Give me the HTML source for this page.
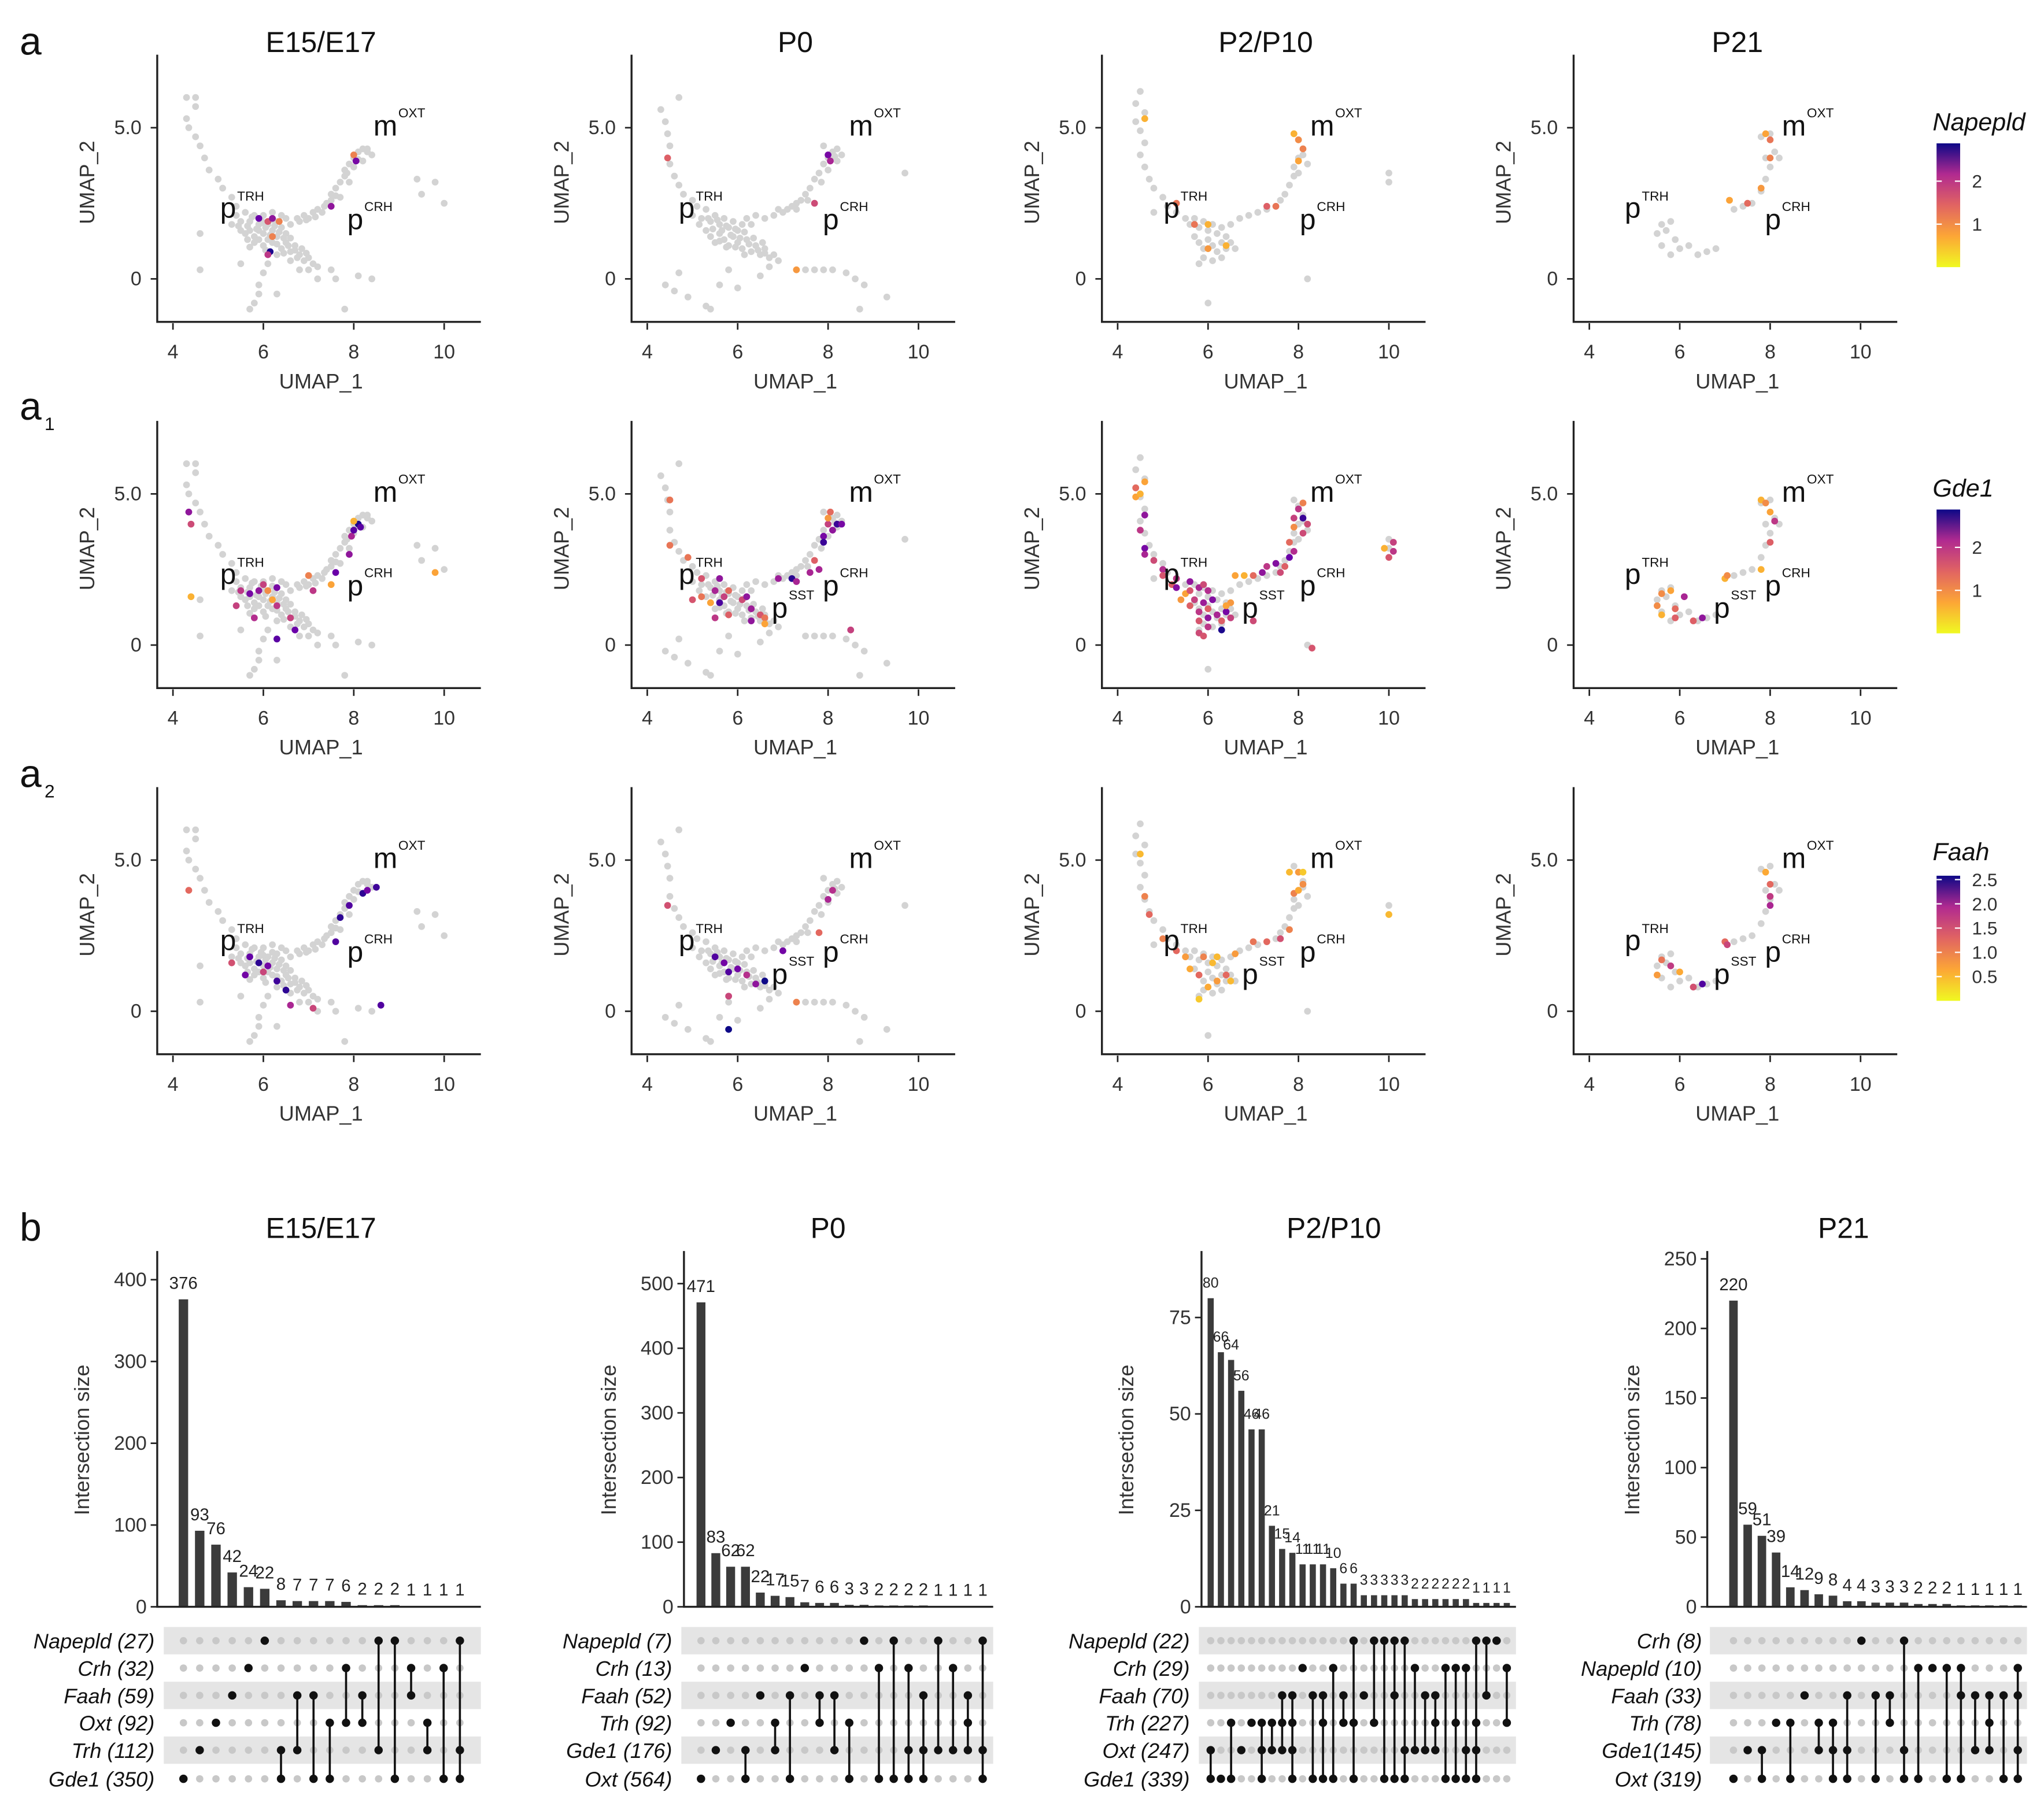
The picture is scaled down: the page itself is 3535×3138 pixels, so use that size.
<!DOCTYPE html>
<html><head><meta charset="utf-8">
<style>
html,body{margin:0;padding:0;background:#fff;}
svg{display:block;font-family:"Liberation Sans",sans-serif;}
</style></head>
<body>
<svg id="fig" width="3535" height="3138" viewBox="0 0 1560 1392" preserveAspectRatio="none" xmlns="http://www.w3.org/2000/svg">
<defs>
<linearGradient id="plasma" x1="0" y1="1" x2="0" y2="0">
<stop offset="0" stop-color="#f0f921"/><stop offset="0.25" stop-color="#fca636"/>
<stop offset="0.5" stop-color="#e16462"/><stop offset="0.75" stop-color="#b12a90"/>
<stop offset="1" stop-color="#0d0887"/>
</linearGradient>
</defs>
</svg>
<script>
// ---------- UMAP data (UMAP_1, UMAP_2) ----------
const stageTitles = ["E15/E17","P0","P2/P10","P21"];
const geneNames = ["Napepld","Gde1","Faah"];
const geneMax = [2.88, 2.88, 2.58];
const grayE15 = "4.3,6.0 4.5,6.0 4.5,5.7 4.3,5.3 4.35,5.0 4.5,4.7 4.6,4.4 4.7,4.0 4.8,3.6 5.0,3.3 5.1,3.0 5.3,2.7 5.4,2.4 4.6,1.5 4.6,0.3 5.4,2.1 5.5,1.9 5.6,2.2 5.7,1.9 5.8,2.1 5.9,1.8 6.0,2.1 6.1,1.8 6.2,2.2 6.3,1.9 6.4,2.1 6.5,2.0 5.5,1.6 5.6,1.5 5.7,1.6 5.8,1.4 5.9,1.6 6.0,1.5 6.1,1.3 6.2,1.6 6.3,1.4 6.4,1.7 6.5,1.5 5.8,1.2 6.0,1.1 6.2,1.2 6.4,1.0 6.5,1.2 6.6,0.9 6.7,1.1 6.8,0.8 6.9,0.6 7.0,0.7 7.1,0.5 7.2,0.4 6.6,0.6 6.8,0.3 7.0,0.3 6.3,0.8 6.1,0.5 6.0,0.2 5.9,-0.2 5.9,-0.5 5.8,-0.8 5.7,-1.0 5.5,0.5 6.3,-0.5 7.5,0.3 7.6,0.0 7.2,0.0 8.1,0.1 8.4,0.0 7.8,-1.0 6.6,1.8 6.8,1.9 6.9,2.1 7.0,2.0 7.1,2.2 7.2,2.3 7.3,2.2 7.4,2.5 7.5,2.6 7.5,2.8 7.6,3.0 7.7,3.2 7.8,3.4 7.8,3.6 7.9,3.8 8.0,3.7 8.0,4.0 8.1,4.2 8.2,4.3 8.3,4.2 8.4,4.1 8.2,3.9 7.9,3.2 7.7,2.7 9.4,3.3 9.8,3.2 9.5,2.8 10.0,2.5 5.3,1.8 5.45,1.75 5.65,1.75 5.75,2.05 5.85,1.65 5.95,1.95 6.05,1.7 6.15,1.45 6.25,1.75 6.35,1.55 6.45,1.35 6.55,1.1 6.6,1.35 6.7,0.95 6.75,0.7 6.85,1.0 6.95,0.85 5.65,1.3 5.9,1.3 6.05,0.95 6.3,1.15 6.45,0.85 5.7,1.05 6.75,2.0 6.95,1.95 7.15,2.05 7.35,2.4 7.6,2.75 7.85,3.5 8.1,3.95 8.3,4.3 6.0,1.85 6.2,1.95";
const grayP0 = "4.7,6.0 4.3,5.6 4.4,5.2 4.45,4.8 4.5,4.4 4.5,3.8 4.6,3.4 4.7,3.1 4.8,2.8 5.0,2.6 5.1,2.4 5.0,2.1 5.2,2.0 5.3,2.3 5.4,1.9 5.5,2.1 5.6,1.8 5.7,2.0 5.8,1.7 5.9,1.9 6.0,1.6 6.1,1.8 6.2,2.0 6.3,1.8 6.4,2.1 5.3,1.6 5.4,1.4 5.5,1.2 5.6,1.5 5.7,1.3 5.8,1.1 5.9,1.4 6.0,1.2 6.1,1.0 6.2,1.3 6.3,0.9 6.4,1.1 6.5,0.8 6.6,1.0 6.7,0.7 6.8,0.8 6.9,0.6 5.8,0.3 6.0,-0.3 5.6,-0.2 4.6,-0.4 4.7,0.2 4.4,-0.2 5.3,-0.9 5.4,-1.0 4.9,-0.6 6.5,0.1 6.7,0.4 7.5,0.3 7.7,0.3 7.9,0.3 8.1,0.3 8.4,0.2 8.6,0.0 8.8,-0.2 8.7,-1.0 9.3,-0.6 6.6,2.0 6.8,2.1 6.9,2.3 7.0,2.2 7.2,2.4 7.3,2.3 7.4,2.6 7.5,2.8 7.6,3.0 7.7,3.3 7.8,3.5 7.9,3.8 8.0,3.6 8.0,4.0 8.1,4.2 8.2,4.3 8.3,4.1 8.2,3.9 7.9,4.4 9.7,3.5 5.15,1.8 5.35,2.0 5.45,1.65 5.55,1.95 5.65,1.6 5.75,1.75 5.85,1.45 5.95,1.65 6.05,1.35 6.15,1.55 6.25,1.15 6.35,1.35 6.45,0.95 6.55,1.2 6.6,0.85 5.6,1.25 5.75,1.05 5.95,1.05 6.15,0.8 7.1,2.3 7.3,2.5 7.55,2.6 7.85,3.2 8.15,4.05";
const grayP2 = "4.5,6.2 4.4,5.8 4.6,5.5 4.4,5.2 4.5,4.9 4.6,4.5 4.5,4.1 4.6,3.7 4.7,3.3 4.8,3.0 5.0,2.7 5.1,2.4 5.3,2.2 5.5,2.0 5.6,1.8 5.7,2.0 5.8,1.7 5.9,1.9 6.0,1.6 6.1,1.8 6.2,1.5 6.3,1.7 6.4,1.4 5.7,1.4 5.8,1.2 5.9,1.0 6.0,1.3 6.1,1.1 6.2,0.9 6.3,1.2 6.4,1.0 6.5,1.2 6.6,1.0 5.9,0.7 6.1,0.6 6.3,0.7 5.8,0.5 6.0,-0.8 6.5,1.8 6.7,2.0 6.9,2.1 7.1,2.2 7.3,2.3 7.5,2.4 7.6,2.6 7.7,2.8 7.8,3.1 7.9,3.4 7.9,3.7 8.0,4.0 8.1,4.3 8.0,4.6 7.9,4.8 8.1,4.1 8.2,3.8 8.0,3.5 10.0,3.5 10.0,3.2 8.2,0.0 4.8,2.2";
const grayP21 = "5.6,1.8 5.7,1.6 5.8,1.9 5.5,1.5 5.9,1.3 5.6,1.1 6.0,1.0 6.2,1.1 6.4,0.8 6.6,0.9 6.8,1.0 5.8,0.8 7.2,2.3 7.4,2.4 7.6,2.5 7.8,2.9 7.9,3.3 8.0,3.7 7.9,4.0 8.1,4.2 8.2,4.0 8.0,4.8 7.8,4.7";
const grayByStage = [grayE15, grayP0, grayP2, grayP21];
// colored cells: "u1,u2,expression"
const napepldE15 = "5.9,2.0,2.3 6.1,1.9,1.3 6.2,2.0,2.0 6.35,1.9,0.9 6.2,1.4,0.9 6.15,0.9,2.8 6.1,0.8,1.6 7.5,2.4,2.0 8.0,4.1,0.9 8.05,3.9,2.2";
const napepldP0 = "4.45,4.0,1.2 7.7,2.5,1.4 8.0,4.1,2.2 8.05,3.9,1.8 7.3,0.3,0.7";
const napepldP2 = "4.6,5.3,0.5 5.3,2.5,1.0 5.7,1.8,1.0 6.0,1.8,0.5 6.4,1.1,0.5 6.0,1.0,0.7 7.3,2.4,1.2 7.5,2.4,1.0 7.9,4.8,0.5 8.0,4.6,0.8 8.1,4.3,0.9 8.0,3.9,0.6";
const napepldP21 = "7.9,4.8,0.6 8.0,4.6,1.0 8.0,4.0,0.9 7.5,2.5,1.1 7.1,2.6,0.6 7.8,3.0,0.7";
const gde1E15 = "4.35,4.4,2.0 4.4,4.0,1.4 4.4,1.6,0.5 5.5,1.8,1.6 5.7,1.7,2.2 5.9,1.8,2.0 6.0,2.0,1.5 6.1,1.8,0.8 6.3,1.9,2.2 6.2,1.5,0.6 6.3,1.3,1.6 5.4,1.3,1.5 6.6,0.9,1.5 6.7,0.5,2.3 5.8,0.9,1.7 6.3,0.2,2.4 7.1,1.8,1.6 7.0,2.3,0.9 7.5,2.0,0.6 7.6,2.4,2.3 7.9,3.0,2.0 7.95,3.6,1.8 8.0,3.8,2.4 8.1,4.0,2.8 8.15,3.9,2.4 9.8,2.4,0.6 8.0,4.1,0.5";
const gde1P0 = "4.5,4.8,1.0 4.5,3.3,1.0 4.9,2.9,1.0 5.2,2.2,1.3 5.0,1.5,1.3 5.2,1.6,1.0 5.4,1.4,0.6 5.6,2.2,2.0 5.5,1.8,1.8 5.6,1.4,2.5 5.7,1.6,1.5 5.8,1.8,1.1 6.1,1.5,1.4 6.2,1.6,2.0 6.3,1.2,1.9 6.5,1.0,1.3 6.6,0.9,1.0 6.6,0.7,0.6 6.3,0.8,2.0 5.8,1.0,1.2 5.5,0.9,1.6 7.2,2.2,2.7 6.9,2.2,1.9 7.3,2.1,1.8 7.6,2.4,1.8 7.7,2.8,1.2 7.8,2.5,1.8 7.9,3.6,2.2 7.9,3.4,2.6 8.0,4.0,1.5 8.2,4.0,2.6 8.3,4.0,2.2 8.1,3.8,2.0 8.0,4.2,0.7 8.05,4.4,1.1 8.5,0.5,1.5";
const gde1P2 = "4.4,4.9,0.6 4.5,5.0,0.5 4.6,5.4,0.6 4.4,5.2,1.1 4.6,4.3,2.0 4.5,3.8,1.6 4.6,3.2,2.2 4.6,3.0,1.8 4.8,2.8,1.4 5.0,2.5,1.7 5.0,2.3,1.3 5.3,2.2,1.6 5.2,2.0,1.2 5.3,1.9,2.1 5.5,1.7,0.6 5.4,1.5,0.7 5.6,2.1,2.0 5.8,1.9,1.8 5.9,2.0,1.4 6.0,1.8,1.7 5.7,1.5,1.5 5.9,1.4,1.9 6.1,1.5,2.1 6.0,1.2,1.2 5.8,1.1,1.6 5.8,0.8,1.3 6.0,0.9,2.0 6.2,1.0,1.8 6.3,0.8,1.2 6.4,1.1,2.2 6.5,0.9,1.5 6.5,1.4,0.7 6.4,1.3,0.6 6.3,0.5,2.8 5.8,0.4,1.4 5.9,0.3,1.3 6.0,0.6,1.6 5.6,1.8,1.3 5.6,1.3,1.2 7.0,0.8,1.4 6.8,2.3,0.5 6.6,2.3,0.6 7.0,2.3,1.1 7.2,2.4,2.0 7.3,2.6,1.6 7.5,2.7,2.1 7.6,2.4,1.4 7.7,2.6,1.2 7.8,2.9,2.3 7.9,3.1,1.7 7.8,3.4,1.1 7.9,3.9,0.8 7.9,4.2,1.5 8.0,4.5,1.6 8.1,4.7,0.9 8.1,4.2,2.6 8.2,4.0,1.4 8.1,3.7,1.4 8.3,-0.1,1.3 9.9,3.2,0.5 10.1,3.4,1.5 10.1,3.1,1.6 10.0,2.9,1.3";
const gde1P21 = "7.8,4.8,0.5 7.9,4.7,0.8 8.0,4.4,0.6 8.1,4.1,1.6 8.0,3.4,1.2 7.8,2.5,0.5 7.0,2.2,0.5 7.05,2.3,0.8 5.6,1.7,0.8 5.8,1.8,0.6 5.5,1.3,0.8 5.6,1.0,0.5 5.9,1.2,1.1 6.1,1.6,1.8 6.3,0.8,1.2 6.5,0.9,2.0 5.9,0.9,1.2";
const faahE15 = "4.35,4.0,1.0 5.3,1.6,1.2 5.7,1.8,2.1 5.9,1.6,2.4 6.1,1.5,2.0 6.0,1.3,1.3 6.3,1.0,2.3 6.5,0.7,2.4 6.6,0.2,1.6 5.6,1.2,2.0 7.1,0.1,1.3 7.6,2.3,2.2 7.7,3.1,2.4 7.9,3.5,2.2 8.2,3.9,2.4 8.3,4.0,2.0 8.5,4.1,2.3 8.6,0.2,2.2";
const faahP0 = "4.45,3.5,1.2 5.5,1.8,2.2 5.7,1.6,2.0 6.0,1.4,2.0 6.2,1.2,1.5 5.8,1.3,2.2 6.4,0.9,1.8 6.6,1.0,2.6 5.8,0.5,1.3 5.8,-0.6,2.6 7.0,2.0,2.0 7.3,0.3,0.8 7.8,2.6,1.0 8.0,3.7,1.6 8.1,4.0,1.5";
const faahP2 = "4.5,5.2,0.4 4.6,3.8,0.8 4.7,3.2,1.0 5.0,2.4,0.8 5.3,2.0,1.0 5.5,1.8,0.6 5.6,1.4,0.5 5.9,1.8,0.8 6.1,1.6,0.4 5.8,1.2,1.0 6.2,1.0,0.6 6.4,1.2,1.0 6.5,1.0,0.4 6.0,0.8,0.5 5.8,0.4,0.3 6.2,1.8,0.4 6.6,1.9,0.6 7.0,2.3,0.9 7.3,2.3,1.0 7.6,2.4,1.2 7.8,2.7,0.8 7.8,4.6,0.4 8.0,4.6,0.6 8.1,4.6,0.3 8.1,4.2,0.7 7.9,3.9,0.8 8.0,4.0,0.5 10.0,3.2,0.4";
const faahP21 = "7.9,4.6,0.5 8.0,4.2,1.0 8.0,3.8,1.4 8.0,3.5,1.6 7.0,2.3,1.0 7.05,2.2,1.3 5.6,1.7,0.9 5.8,1.5,1.4 5.5,1.2,0.6 6.3,0.8,1.2 6.5,0.9,2.2 6.0,1.3,0.5";
const colored = [[napepldE15,napepldP0,napepldP2,napepldP21],[gde1E15,gde1P0,gde1P2,gde1P21],[faahE15,faahP0,faahP2,faahP21]];
const xTicks = [4,6,8,10];
const yTicks = [0,5];
const yTickLabels = ["0","5.0"];

// ---------- UpSet data ----------
const upTitles = ["E15/E17","P0","P2/P10","P21"];
const upSetsE15 = ["Napepld (27)","Crh (32)","Faah (59)","Oxt (92)","Trh (112)","Gde1 (350)"];
const upSetsP0 = ["Napepld (7)","Crh (13)","Faah (52)","Trh (92)","Gde1 (176)","Oxt (564)"];
const upSetsP2 = ["Napepld (22)","Crh (29)","Faah (70)","Trh (227)","Oxt (247)","Gde1 (339)"];
const upSetsP21 = ["Crh (8)","Napepld (10)","Faah (33)","Trh (78)","Gde1(145)","Oxt (319)"];
const upSizesE15 = [376,93,76,42,24,22,8,7,7,7,6,2,2,2,1,1,1,1];
const upSizesP0 = [471,83,62,62,22,17,15,7,6,6,3,3,2,2,2,2,1,1,1,1];
const upSizesP2 = [80,66,64,56,46,46,21,15,14,11,11,11,10,6,6,3,3,3,3,3,2,2,2,2,2,2,1,1,1,1];
const upSizesP21 = [220,59,51,39,14,12,9,8,4,4,3,3,3,2,2,2,1,1,1,1,1];
const upCombE15 = ["5","4","3","2","1","0","45","24","25","35","13","23","04","05","12","34","15","045"];
const upCombP0 = ["5","4","3","45","2","34","25","1","23","24","35","0","15","05","145","245","04","14","234","045"];
const upCombP2 = ["45","5","35","4","3","345","34","234","2345","1","25","235","15","23","035","2","03","05","025","045","14","24","234","15","135","145","0345","02","0","13"];
const upCombP21 = ["5","4","45","3","35","2","34","345","245","0","25","23","045","15","1","15","125","24","234","25","1245"];
const upTicksE15 = [0,100,200,300,400];
const upTicksP0 = [0,100,200,300,400,500];
const upTicksP2 = [0,25,50,75];
const upTicksP21 = [0,50,100,150,200,250];

const NS = "http://www.w3.org/2000/svg";
const svg = document.getElementById("fig");
function mk(tag, attrs, parent){
  const e = document.createElementNS(NS, tag);
  for (const k in attrs) e.setAttribute(k, attrs[k]);
  (parent||svg).appendChild(e);
  return e;
}
function txt(x,y,s,size,anchor,parent,extra){
  const t = mk("text",Object.assign({x:x,y:y,"font-size":size,"text-anchor":anchor||"middle",fill:"#111"},extra||{}),parent);
  t.textContent = s;
  return t;
}
function parsePts(s){ return s.trim().split(/\s+/).map(p=>p.split(",").map(Number)); }
const stops = [[240,249,33],[252,166,54],[225,100,98],[177,42,144],[106,0,168],[13,8,135]];
function plasma(t){
  t = Math.max(0,Math.min(1,t));
  const f = t*(stops.length-1), i = Math.min(stops.length-2, Math.floor(f)), r = f-i;
  const c = stops[i].map((v,k)=>Math.round(v+(stops[i+1][k]-v)*r));
  return "rgb("+c.join(",")+")";
}

// panel letters
let L = txt(15,42,"a",30,"start");  
L = txt(15,322,"a",30,"start");  
L = txt(34,330,"1",14,"start");  
L = txt(15,604,"a",30,"start");  
L = txt(34,612,"2",14,"start");  
L = txt(15,952,"b",30,"start");  

// ---------- UMAP panels ----------
const colDX = [0,362,721,1081];
const rowDY = [0,281,562];
const mLbl = [[285,168,265],[286,156,266],[279,167,271],[279,159,266]];
for (let r=0;r<3;r++){
  for (let c=0;c<4;c++){
    const ox = colDX[c], oy = rowDY[r];
    const g = mk("g",{});
    
    
    const sx = u => ox + 132 + (u-4)*34.5;
    const sy = v => oy + 214 - v*23.2;
    if (r===0){
      const t = txt(ox+245, 40, stageTitles[c], 22, "middle", g);
      
      
    }
    for (const p of parsePts(grayByStage[c])){
      const d = mk("circle",{cx:sx(p[0]),cy:sy(p[1]),r:2.6,fill:"#d3d3d3"},g);
      
      
    }
    for (const p of parsePts(colored[r][c])){
      const d = mk("circle",{cx:sx(p[0]),cy:sy(p[1]),r:2.6,fill:plasma(p[2]/geneMax[r])},g);
      
      
    }
    const ax = mk("path",{d:"M"+(ox+120)+","+(oy+42)+" V"+(oy+247)+" H"+(ox+367),fill:"none",stroke:"#222","stroke-width":1.5},g);
    
    
    xTicks.forEach(v=>{
      mk("line",{x1:sx(v),x2:sx(v),y1:oy+248,y2:oy+253,stroke:"#222","stroke-width":1.2},g);
      const t = txt(sx(v), oy+275, String(v), 15, "middle", g, {fill:"#333"});
      
      
    });
    yTicks.forEach((v,i)=>{
      mk("line",{x1:ox+115,x2:ox+120,y1:sy(v),y2:sy(v),stroke:"#222","stroke-width":1.2},g);
      const t = txt(ox+108, sy(v)+5, yTickLabels[i], 15, "end", g, {fill:"#333"});
      
      
    });
    let t = txt(ox+245, oy+298, "UMAP_1", 16, "middle", g, {fill:"#333"});
    
    
    t = txt(0,0,"UMAP_2",16,"middle",g,{fill:"#333",transform:"translate("+(ox+72)+","+(oy+140)+") rotate(-90)"});
    
    
    const ml = mLbl[c];
    t = txt(ox+ml[0], oy+104, "m", 22, "start", g);
    
    
    txt(ox+ml[0]+19, oy+90, "OXT", 10, "start", g);
    t = txt(ox+ml[1], oy+167, "p", 22, "start", g);
    
    
    txt(ox+ml[1]+13, oy+154, "TRH", 10, "start", g);
    t = txt(ox+ml[2], oy+176, "p", 22, "start", g);
    
    
    txt(ox+ml[2]+13, oy+162, "CRH", 10, "start", g);
    if (r>0 && c>0){
      t = txt(ox+227, oy+193, "p", 22, "start", g);
      
      
      txt(ox+240, oy+179, "SST", 10, "start", g);
    }
  }
  const oy = rowDY[r];
  const cb = mk("g",{});
  
  
  const top = r===2 ? 672 : oy+110, bot = r===2 ? 768 : oy+205;
  txt(1475, r===2 ? 660 : oy+100, geneNames[r], 19, "start", cb, {"font-style":"italic"});
  mk("rect",{x:1478,y:top,width:18,height:bot-top,fill:"url(#plasma)"},cb);
  const labs = r===2 ? [2.5,2.0,1.5,1.0,0.5] : [2,1];
  labs.forEach(v=>{
    const y = bot - v/geneMax[r]*(bot-top);
    mk("line",{x1:1478,x2:1482,y1:y,y2:y,stroke:"#fff","stroke-width":1},cb);
    mk("line",{x1:1492,x2:1496,y1:y,y2:y,stroke:"#fff","stroke-width":1},cb);
    txt(1505, y+5, r===2 ? v.toFixed(1) : String(v), 14, "start", cb, {fill:"#333"});
  });
}

// ---------- UpSet plots ----------
const up = [
  {sets:upSetsE15,sizes:upSizesE15,comb:upCombE15,ticks:upTicksE15,axX:120,bandL:125,bandR:367,x0:140,x1:351,pxPer:(1233-982)/400,labX:118,titleX:245},
  {sets:upSetsP0,sizes:upSizesP0,comb:upCombP0,ticks:upTicksP0,axX:522,bandL:520,bandR:758,x0:535,x1:750,pxPer:(1233-985)/500,labX:513,titleX:632},
  {sets:upSetsP2,sizes:upSizesP2,comb:upCombP2,ticks:upTicksP2,axX:917,bandL:915,bandR:1157,x0:924,x1:1150,pxPer:(1233-1011)/75,labX:908,titleX:1018},
  {sets:upSetsP21,sizes:upSizesP21,comb:upCombP21,ticks:upTicksP21,axX:1303,bandL:1305,bandR:1547,x0:1323,x1:1540,pxPer:(1233-966)/250,labX:1299,titleX:1407}
];
const rowY = [1259,1280,1301,1322,1343,1365];
up.forEach((P,pi)=>{
  const g = mk("g",{});
  
  
  let t = txt(P.titleX, 950, upTitles[pi], 22, "middle", g);
  
  
  const n = P.comb.length;
  const step = (P.x1-P.x0)/(n-1);
  const bw = Math.min(7.2, step*0.6);
  const fs = step < 9 ? 11 : 13;
  const bx = i => P.x0 + step*i;
  const by = v => 1233 - v*P.pxPer;
  [0,2,4].forEach(ri=>{
    const s = mk("rect",{x:P.bandL,y:rowY[ri]-10.5,width:P.bandR-P.bandL,height:21,fill:"#e5e5e5"},g);
    
    
  });
  P.sets.forEach((s,ri)=>{
    const lt = txt(P.labX, rowY[ri]+6, s, 16, "end", g, {"font-style":"italic"});
    
    
  });
  P.sizes.forEach((v,i)=>{
    if (i>=n) return;
    const b = mk("rect",{x:bx(i)-bw/2,y:by(v),width:bw,height:1233-by(v),fill:"#3b3b3b"},g);
    
    
    const lt = txt(bx(i), by(v)-8, String(v), fs, "middle", g, {fill:"#222"});
    
    
  });
  mk("path",{d:"M"+P.axX+",960 V1233 H"+P.bandR,fill:"none",stroke:"#222","stroke-width":1.5},g);
  P.ticks.forEach(v=>{
    mk("line",{x1:P.axX-5,x2:P.axX,y1:by(v),y2:by(v),stroke:"#222","stroke-width":1.2},g);
    const lt = txt(P.axX-8, by(v)+5, String(v), 15, "end", g, {fill:"#333"});
    
    
  });
  t = txt(0,0,"Intersection size",16,"middle",g,{fill:"#333",transform:"translate("+(P.axX-52)+",1105) rotate(-90)"});
  
  
  P.comb.forEach((cs,i)=>{
    const rows = cs.split("").map(Number);
    for (let ri=0;ri<6;ri++){
      if (rows.indexOf(ri)<0){
        const d = mk("circle",{cx:bx(i),cy:rowY[ri],r:2.8,fill:"#c8c8c8"},g);
        
        
      }
    }
    if (rows.length>1){
      const mn = Math.min(...rows), mx = Math.max(...rows);
      const ln = mk("line",{x1:bx(i),x2:bx(i),y1:rowY[mn],y2:rowY[mx],stroke:"#111","stroke-width":1.6},g);
      
      
    }
    rows.forEach(ri=>{
      const d = mk("circle",{cx:bx(i),cy:rowY[ri],r:3.2,fill:"#111"},g);
      
      
    });
  });
});
</script>
</body></html>
